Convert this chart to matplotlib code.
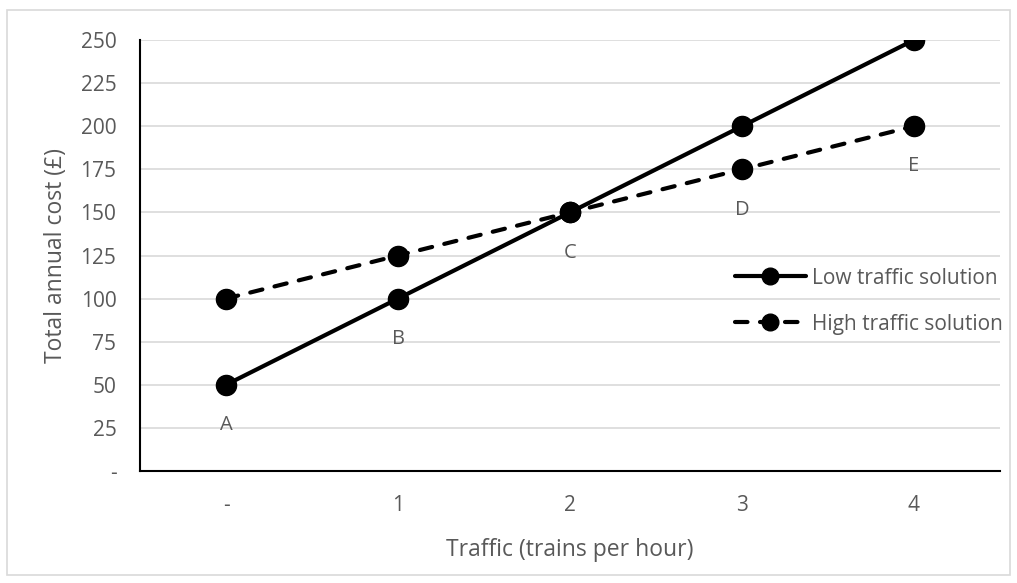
import matplotlib.pyplot as plt
from matplotlib.patches import Rectangle

# data
traffic = [0, 1, 2, 3, 4]
low_cost = [50, 100, 150, 200, 250]
high_cost = [100, 125, 150, 175, 200]
point_labels = ['A', 'B', 'C', 'D', 'E']
x_ticklabels = ['-', '1', '2', '3', '4']
y_ticks = [0, 25, 50, 75, 100, 125, 150, 175, 200, 225, 250]
y_ticklabels = ['-'] + [str(v) for v in y_ticks[1:]]

plt.rcParams['font.family'] = ['Open Sans', 'DejaVu Sans']
grey = '#595959'

fig = plt.figure(figsize=(10.17, 5.83), dpi=100)
ax = fig.add_axes([140 / 1017, 1 - 471 / 583, 860 / 1017, 431 / 583])

# outer chart border
fig.patches.append(Rectangle((7 / 1017, 1 - 575 / 583), 1003 / 1017, 565 / 583,
                             transform=fig.transFigure, fill=False,
                             edgecolor='#d9d9d9', linewidth=1.2))

ax.plot(traffic, low_cost, color='black', lw=3, marker='o', markersize=14.5,
        label='Low traffic solution', solid_capstyle='round', zorder=3)
ax.plot(traffic, high_cost, color='black', lw=3, marker='o', markersize=14.5,
        linestyle=(0, (3, 3)), dash_capstyle='round',
        label='High traffic solution', zorder=3)

# point labels sit under the lower of the two points
for x, lo, hi, lab in zip(traffic, low_cost, high_cost, point_labels):
    ax.annotate(lab, (x, min(lo, hi)), xytext=(0, -29), textcoords='offset points',
                ha='center', va='center', fontsize=14.5, color=grey)

ax.set_xlim(-0.5, 4.5)
ax.set_ylim(0, 250)
ax.set_xticks(traffic)
ax.set_xticklabels(x_ticklabels)
ax.set_yticks(y_ticks)
ax.set_yticklabels(y_ticklabels)
ax.tick_params(length=0, labelsize=15, labelcolor=grey)
ax.tick_params(axis='x', pad=17)
ax.tick_params(axis='y', pad=17)
ax.grid(axis='y', color='#d9d9d9', lw=1.2)
ax.set_axisbelow(True)
for s in ['top', 'right']:
    ax.spines[s].set_visible(False)
for s in ['left', 'bottom']:
    ax.spines[s].set_linewidth(1.5)
    ax.spines[s].set_color('black')

ax.set_xlabel('Traffic (trains per hour)', fontsize=16.5, color=grey, labelpad=16)
ax.set_ylabel('Total annual cost (£)', fontsize=16.5, color=grey, labelpad=9)

leg = ax.legend(loc='center left', bbox_to_anchor=(0.67, 0.394), frameon=False,
                fontsize=15, labelcolor=grey, handlelength=3.4, handletextpad=0.3,
                labelspacing=1.2)
for h in leg.legend_handles:
    h.set_markersize(12)

fig.savefig('out.png', dpi=100)
